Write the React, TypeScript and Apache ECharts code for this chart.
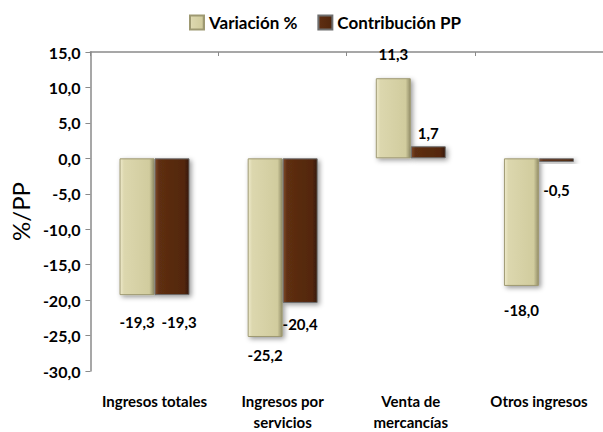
import React, { useEffect, useRef } from 'react';
import * as echarts from 'echarts';

const categories = ['Ingresos totales', 'Ingresos por\nservicios', 'Venta de\nmercancías', 'Otros ingresos'];
const seriesNames = ['Variación %', 'Contribución PP'];
const variacion = [-19.3, -25.2, 11.3, -18.0];
const contribucion = [-19.3, -20.4, 1.7, -0.5];
const yMin = -30;
const yMax = 15;
const yStep = 5;

// label placement tweaks (distance from bar end, horizontal shift)
const varLabelDist = [19, 11, 17, 17];
const conLabelDist = [19, 14, 6, 21];
const conLabelShift = [7, 0, 0, 0];

const FONT = 'Lato, "Open Sans", "DejaVu Sans", sans-serif';
const fmt = (v: number) => v.toFixed(1).replace('.', ',');

const khaki = new echarts.graphic.LinearGradient(0, 0, 1, 0, [
  { offset: 0, color: '#EEEACB' },
  { offset: 0.12, color: '#DCD7AE' },
  { offset: 0.86, color: '#D1CC9E' },
  { offset: 1, color: '#95906A' },
]);
const brown = new echarts.graphic.LinearGradient(0, 0, 1, 0, [
  { offset: 0, color: '#804A28' },
  { offset: 0.12, color: '#5E2E12' },
  { offset: 0.86, color: '#53270D' },
  { offset: 1, color: '#351705' },
]);

export default function App() {
  const ref = useRef<HTMLDivElement>(null);
  useEffect(() => {
    if (!ref.current) return;
    const chart = echarts.init(ref.current, undefined, { renderer: 'svg' });
    const labelBase = {
      show: true,
      position: 'outside',
      formatter: (p: any) => fmt(p.value),
      fontSize: 15,
      fontWeight: 'bold',
      color: '#000',
      fontFamily: FONT,
    };
    const shadow = {
      shadowColor: 'rgba(0,0,0,0.4)',
      shadowBlur: 5,
      shadowOffsetX: 2,
      shadowOffsetY: 2,
    };
    chart.setOption({
      animation: false,
      textStyle: { fontFamily: FONT },
      legend: {
        top: 9,
        left: 184,
        itemWidth: 14,
        itemHeight: 14,
        itemGap: 20,
        icon: 'rect',
        data: seriesNames,
        textStyle: { fontSize: 17, fontWeight: 'bold', color: '#000', fontFamily: FONT },
      },
      grid: { left: 86, right: -2, top: 52, bottom: 58, containLabel: false },
      xAxis: [
        {
          type: 'category',
          data: categories,
          axisLine: { show: false },
          axisTick: { show: false },
          axisLabel: {
            interval: 0,
            fontSize: 15,
            fontWeight: 'bold',
            color: '#000',
            margin: 19,
            lineHeight: 21,
            fontFamily: FONT,
          },
        },
        {
          type: 'category',
          data: categories,
          axisLine: { show: true, onZero: true, lineStyle: { color: '#8A8A8A', width: 1.5 } },
          axisTick: { show: true, inside: true, length: 4, lineStyle: { color: '#8A8A8A' } },
          axisLabel: { show: false },
        },
      ],
      yAxis: {
        type: 'value',
        min: yMin,
        max: yMax,
        interval: yStep,
        name: '%/PP',
        nameLocation: 'middle',
        nameGap: 58,
        nameTextStyle: { fontSize: 24, color: '#000', fontFamily: FONT },
        axisLine: { show: true, lineStyle: { color: '#8A8A8A', width: 1.5 } },
        axisTick: { show: true, length: 5, lineStyle: { color: '#8A8A8A' } },
        splitLine: { show: false },
        axisLabel: {
          formatter: (v: number) => fmt(v),
          fontSize: 16,
          fontWeight: 'bold',
          color: '#000',
          margin: 10,
          fontFamily: FONT,
        },
      },
      series: [
        {
          name: seriesNames[0],
          type: 'bar',
          xAxisIndex: 0,
          barWidth: 35,
          barGap: '0%',
          itemStyle: { color: khaki, borderColor: '#9E9972', borderWidth: 1, ...shadow },
          label: labelBase,
          data: variacion.map((v, i) => ({ value: v, label: { distance: varLabelDist[i] } })),
        },
        {
          name: seriesNames[1],
          type: 'bar',
          xAxisIndex: 0,
          barWidth: 35,
          barGap: '0%',
          itemStyle: { color: brown, borderColor: '#6E6E6E', borderWidth: 1, ...shadow },
          label: labelBase,
          data: contribucion.map((v, i) => ({
            value: v,
            label: { distance: conLabelDist[i], offset: [conLabelShift[i], 0] },
          })),
        },
      ],
    });
    return () => chart.dispose();
  }, []);
  return (
    <div
      ref={ref}
      style={{ position: 'absolute', left: 0, top: 0, width: 603, height: 432 }}
    />
  );
}
